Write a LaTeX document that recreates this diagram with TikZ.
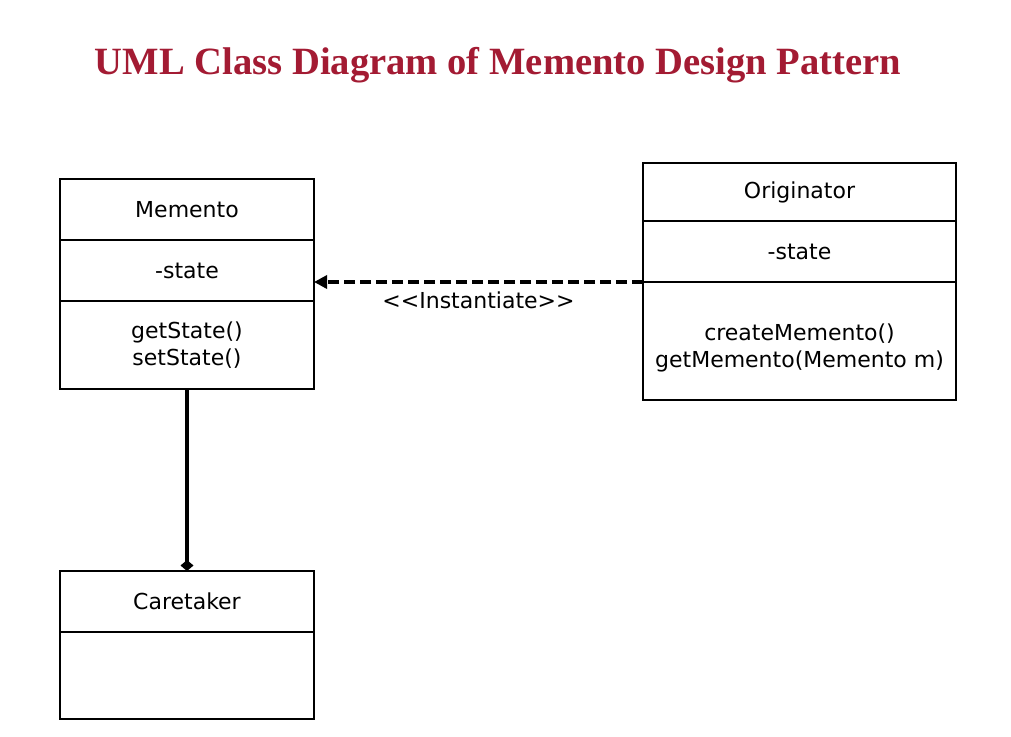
\documentclass[tikz,border=0pt]{standalone}
\usepackage{fontspec}
\setmainfont{Liberation Serif}
\setsansfont{DejaVu Sans}
\usetikzlibrary{arrows.meta,positioning}
\definecolor{titlec}{HTML}{A31B33}

\begin{document}
\begin{tikzpicture}[x=1pt,y=-1pt,
    part/.style={draw=black, line width=2pt, outer sep=0pt, minimum width=254pt,
      align=center, font=\sffamily\fontsize{22}{27}\selectfont},
    opart/.style={part, minimum width=313pt}]
  \useasboundingbox (0,0) rectangle (1011,736);
  \node[font=\bfseries\fontsize{38.6}{44}\selectfont, text=titlec] (title) at (498,65)
    {UML Class Diagram of Memento Design Pattern};
  % Memento
  \node[part, minimum height=61pt] (mhead) at (187,209.5) {Memento};
  \node[part, minimum height=61pt, below=0pt of mhead] (mattr) {-state};
  \node[part, minimum height=88pt, below=0pt of mattr] (mmeth) {getState()\\setState()};
  % Originator
  \node[opart, minimum height=58pt] (ohead) at (799.5,192) {Originator};
  \node[opart, minimum height=61pt, below=0pt of ohead] (oattr) {-state};
  \node[opart, minimum height=118pt, below=0pt of oattr] (ometh)
    {\rule{0pt}{30pt}createMemento()\\getMemento(Memento m)};
  % Caretaker
  \node[part, minimum height=61pt] (chead) at (187,601.5) {Caretaker};
  \node[part, minimum height=87pt, below=0pt of chead] (cbody) {};
  \draw[line width=3.5pt, dash pattern=on 11pt off 5pt, -{Triangle[length=13pt,width=13pt]}]
    (oattr.south west) -- (oattr.south west -| mattr.east)
    node[midway, below=5pt, font=\sffamily\fontsize{22}{27}\selectfont] (inst)
    {<\kern0pt<Instantiate>\kern0pt>};
  \draw[line width=3.5pt, -{Diamond[length=11pt,width=13pt]}] (mmeth.south) -- (chead.north);
\end{tikzpicture}
\end{document}
